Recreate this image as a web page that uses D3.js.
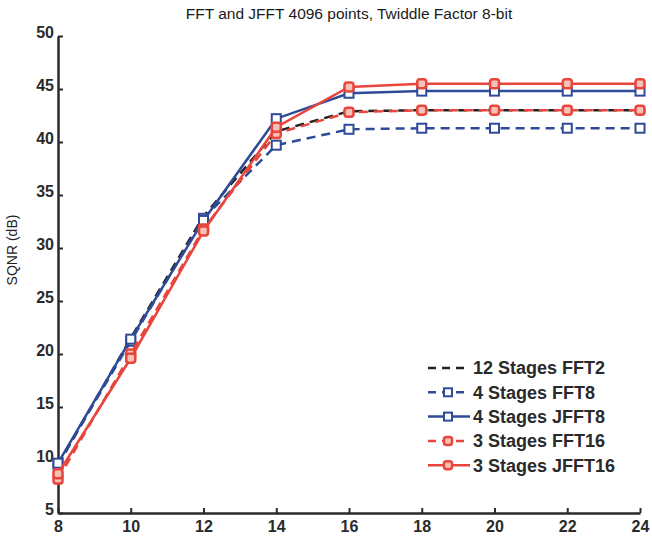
<!DOCTYPE html>
<html>
<head>
<meta charset="utf-8">
<script src="https://cdn.jsdelivr.net/npm/d3@7"></script>
<style>
  body { margin: 0; background: #fff; }
  text { font-family: "Liberation Sans", Arial, sans-serif; }
</style>
</head>
<body>
<div id="chart"></div>
<script>
// data
const stages = [8, 10, 12, 14, 16, 18, 20, 22, 24];
const fft2_12 = [9.5, 21.5, 33.0, 41.0, 42.9, 43.0, 43.0, 43.0, 43.0];
const fft8_4 = [9.6, 21.2, 32.8, 39.7, 41.2, 41.3, 41.3, 41.3, 41.3];
const jfft8_4 = [9.7, 21.4, 32.6, 42.2, 44.6, 44.8, 44.8, 44.8, 44.8];
const fft16_3 = [8.2, 20.0, 31.8, 40.8, 42.8, 43.0, 43.0, 43.0, 43.0];
const jfft16_3 = [8.7, 19.6, 31.6, 41.4, 45.2, 45.5, 45.5, 45.5, 45.5];
const xTicks = [8, 10, 12, 14, 16, 18, 20, 22, 24];
const yTicks = [5, 10, 15, 20, 25, 30, 35, 40, 45, 50];

const seriesNames = ["12 Stages FFT2", "4 Stages FFT8", "4 Stages JFFT8", "3 Stages FFT16", "3 Stages JFFT16"];
const seriesValues = [fft2_12, fft8_4, jfft8_4, fft16_3, jfft16_3];

const blue = "#2f4a96", red = "#e8453c", black = "#222";
const styles = [
  { color: black, dash: "9,6", marker: null },
  { color: blue, dash: "9,6", marker: "square" },
  { color: blue, dash: null, marker: "square" },
  { color: red, dash: "9,6", marker: "round" },
  { color: red, dash: null, marker: "round" }
];

const width = 652, height = 543;
const margin = { top: 36, right: 12, bottom: 30, left: 58 };

const svg = d3.select("#chart").append("svg")
  .attr("width", width)
  .attr("height", height);

const x = d3.scaleLinear().domain([8, 24]).range([margin.left, width - margin.right]);
const y = d3.scaleLinear().domain([5, 50]).range([height - margin.bottom, margin.top]);

// title, centred over the axes
svg.append("text")
  .attr("x", (margin.left + width - margin.right) / 2)
  .attr("y", 19)
  .attr("text-anchor", "middle")
  .style("font-size", "15.5px")
  .style("fill", "#1a1a1a")
  .text("FFT and JFFT 4096 points, Twiddle Factor 8-bit");

// y label
svg.append("text")
  .attr("transform", "translate(17,250) rotate(-90)")
  .attr("text-anchor", "middle")
  .style("font-size", "14px")
  .style("fill", "#222")
  .text("SQNR (dB)");

// axes
const xAxis = svg.append("g")
  .attr("transform", `translate(0,${height - margin.bottom})`)
  .call(d3.axisBottom(x).tickValues(xTicks).tickSize(-5).tickPadding(5).tickSizeOuter(0));
const yAxis = svg.append("g")
  .attr("transform", `translate(${margin.left},0)`)
  .call(d3.axisLeft(y).tickValues(yTicks).tickSize(-5).tickPadding(4).tickSizeOuter(0));

[xAxis, yAxis].forEach(ax => {
  ax.select(".domain").attr("stroke", "#2a2a2a").attr("stroke-width", 2.5);
  ax.selectAll(".tick line").attr("stroke", "#2a2a2a").attr("stroke-width", 2);
  ax.selectAll(".tick text")
    .style("font-size", "16px")
    .style("font-weight", "bold")
    .style("fill", "#2a2a2a");
});
xAxis.selectAll(".tick text").attr("dy", "0.85em");
yAxis.selectAll(".tick text").attr("dy", "0.1em");

const line = d3.line()
  .x((d, i) => x(stages[i]))
  .y(d => y(d));

const plot = svg.append("g");

function drawMarker(g, cx, cy, st, s) {
  if (st.marker === "square") {
    g.append("rect")
      .attr("x", cx - s).attr("y", cy - s)
      .attr("width", 2 * s).attr("height", 2 * s)
      .attr("fill", "#fff")
      .attr("stroke", st.color)
      .attr("stroke-width", 2);
  } else if (st.marker === "round") {
    g.append("rect")
      .attr("x", cx - s).attr("y", cy - s)
      .attr("width", 2 * s).attr("height", 2 * s)
      .attr("rx", s * 0.6)
      .attr("fill", "#f6c2b8")
      .attr("stroke", st.color)
      .attr("stroke-width", 2.5);
  }
}

seriesValues.forEach((vals, k) => {
  const st = styles[k];
  plot.append("path")
    .datum(vals)
    .attr("d", line)
    .attr("fill", "none")
    .attr("stroke", st.color)
    .attr("stroke-width", 2.5)
    .attr("stroke-dasharray", st.dash);
  const mg = plot.append("g");
  vals.forEach((v, i) => drawMarker(mg, x(stages[i]), y(v), st, 4.5));
});

// legend
const legend = svg.append("g").attr("transform", "translate(428,368)");
seriesNames.forEach((name, k) => {
  const st = styles[k];
  const row = legend.append("g").attr("transform", `translate(0,${k * 24.3})`);
  row.append("line")
    .attr("x1", 0).attr("x2", 42)
    .attr("y1", 0).attr("y2", 0)
    .attr("stroke", st.color)
    .attr("stroke-width", 2.5)
    .attr("stroke-dasharray", st.dash ? "8,6" : null);
  drawMarker(row, 20, 0, st, 4);
  row.append("text")
    .attr("x", 45)
    .attr("y", 0)
    .attr("dy", "0.36em")
    .style("font-size", "18px")
    .style("font-weight", "bold")
    .style("fill", "#2a2a2a")
    .text(name);
});
</script>
</body>
</html>
